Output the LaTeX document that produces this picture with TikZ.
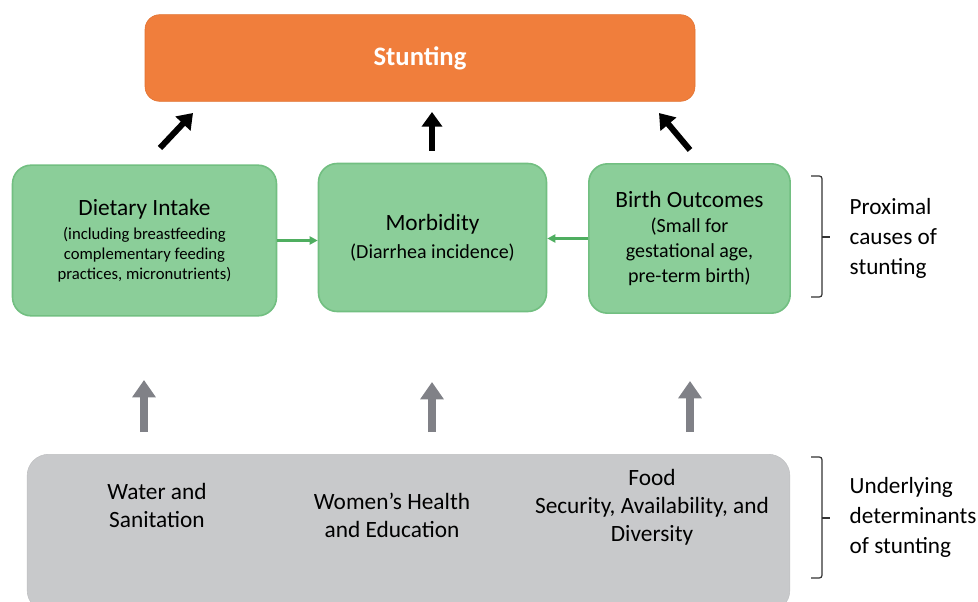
\documentclass[tikz,border=0pt]{standalone}
\usepackage{fontspec}
\setmainfont{Carlito}
\usepackage{tikz}
\usetikzlibrary{arrows.meta,positioning}

\definecolor{stuntorange}{HTML}{F07E3C}
\definecolor{stuntedge}{HTML}{E0712F}
\definecolor{greenfill}{HTML}{8BCE99}
\definecolor{greenedge}{HTML}{72BF81}
\definecolor{greenarrow}{HTML}{4FAE60}
\definecolor{grayfill}{HTML}{C8C9CB}
\definecolor{grayedge}{HTML}{BEBFC1}
\definecolor{grayarrow}{HTML}{808187}

\newcommand{\boxtitle}[1]{{\fontsize{17.5}{21}\selectfont #1}}

\tikzset{
  causebox/.style={draw=greenedge,line width=1.2pt,rounded corners=14pt,
    fill=greenfill,align=center},
  detext/.style={align=center,font=\fontsize{17.5}{21}\selectfont},
  sidelabel/.style={align=left,anchor=west,font=\fontsize{17.4}{22.5}\selectfont},
  upblack/.style={-{Triangle[length=11pt,width=15pt]},line width=4.5pt,black},
  upgray/.style={-{Triangle[length=13pt,width=17pt]},line width=6pt,grayarrow},
  sidegreen/.style={-{Triangle[length=6pt,width=6pt]},line width=1.8pt,greenarrow},
  brace/.style={line width=0.9pt,black!80,rounded corners=2pt}
}

\begin{document}
\begin{tikzpicture}[x=0.75pt,y=-0.75pt]
  \useasboundingbox (0,0) rectangle (978,602);

  \node[draw=stuntedge,fill=stuntorange,rounded corners=11pt,
    minimum width=412.5pt,minimum height=65pt,text=white,
    font=\bfseries\fontsize{20}{24}\selectfont] (stunting) at (420,58) {Stunting};

  \node[causebox,minimum width=198pt,minimum height=113pt,
    font=\fontsize{12.5}{15}\selectfont] (diet) at (144.5,240.5)
    {\boxtitle{Dietary Intake}\\[3pt]
     (including breastfeeding\\complementary feeding\\practices, micronutrients)};
  \node[causebox,minimum width=171pt,minimum height=111pt,
    font=\fontsize{15}{18.75}\selectfont] (morb) at (432.5,237.5)
    {\boxtitle{Morbidity}\\[2pt](Diarrhea incidence)};
  \node[causebox,minimum width=151pt,minimum height=112pt,
    font=\fontsize{15}{18.75}\selectfont] (birth) at (689.5,238.5)
    {\boxtitle{Birth Outcomes}\\
     (Small for\\gestational age,\\pre-term birth)};

  \node[draw=grayedge,fill=grayfill,rounded corners=16pt,
    minimum width=572pt,minimum height=118pt] (under) at (408.5,533) {};
  \node[detext] (water) at (157,505) {Water and\\Sanitation};
  \node[detext] (women) at (392,515) {Women’s Health\\and Education};
  \node[detext] (food) at (652,507) {Food\\Security, Availability, and\\Diversity};

  % arrows up to stunting
  \coordinate (a1) at (160,148);
  \coordinate (a2) at (432,151);
  \coordinate (a3) at (690,150);
  \draw[upblack] (a1) -- (193,113);
  \draw[upblack] (a2) -- (432,112);
  \draw[upblack] (a3) -- (659,113);

  % sideways into morbidity
  \draw[sidegreen] (diet.east) -- (morb.west |- diet.east);
  \draw[sidegreen] (birth.west) -- (morb.east |- birth.west);

  % up from determinants
  \coordinate (g1) at (144,432);
  \coordinate (g2) at (432,432);
  \coordinate (g3) at (690,432);
  \draw[upgray] (g1) -- (144,380);
  \draw[upgray] (g2) -- (432,382);
  \draw[upgray] (g3) -- (690,381);

  % brackets
  \draw[brace] (811,176) -- (822,176) -- (822,297) -- (811,297);
  \draw[line width=0.9pt,black!80] (822,237) -- (830,237);
  \node[sidelabel] (proximal) at (845,238) {Proximal\\causes of\\stunting};

  \draw[brace] (811,457) -- (822,457) -- (822,578) -- (811,578);
  \draw[line width=0.9pt,black!80] (822,518) -- (830,518);
  \node[sidelabel] (underlying) at (845,517) {Underlying\\determinants\\of stunting};
\end{tikzpicture}
\end{document}
